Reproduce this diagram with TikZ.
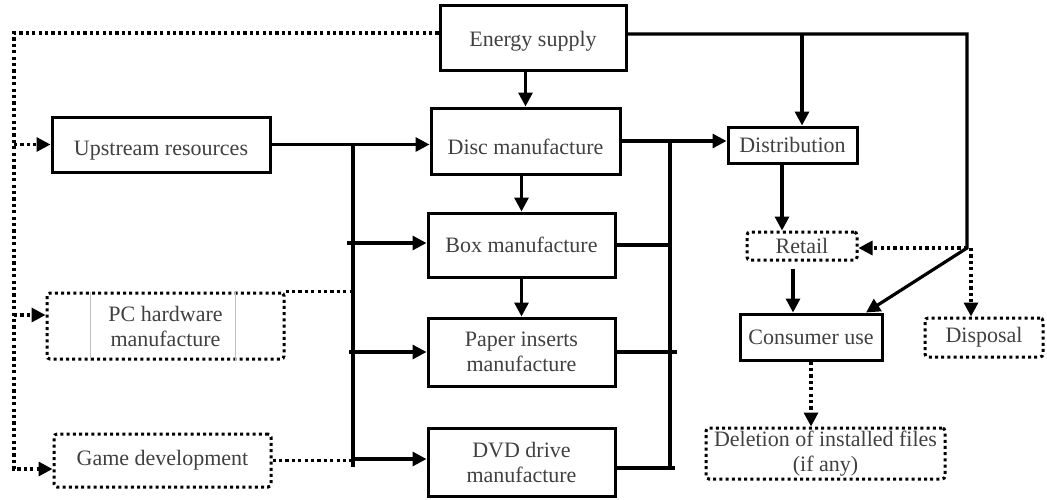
\documentclass[tikz,border=0pt]{standalone}
\usepackage{fontspec}
\setmainfont{Liberation Serif}
\usetikzlibrary{arrows.meta,positioning}

\begin{document}
\begin{tikzpicture}[x=0.5pt,y=-0.5pt,font=\fontsize{11}{12.5}\selectfont,
    blk/.style={draw, line width=1.5pt, inner sep=0pt, align=center, text=black!75},
    dotblk/.style={blk, dash pattern=on 1.5pt off 1.6pt, rounded corners=1.5pt},
    line/.style={line width=1.6pt},
    dotline/.style={line width=1.6pt, dash pattern=on 1.6pt off 1.6pt},
    >={Triangle[length=7pt,width=7pt]}]
    \useasboundingbox (0,0) rectangle (1047,499);
    % boxes
    \node[blk, minimum width=93pt, minimum height=32.5pt, text height=10.5pt, text depth=1.3pt] (energy) at (533,37.5) {Energy supply};
    \node[blk, minimum width=109pt, minimum height=27.5pt, text height=12pt, text depth=1.3pt] (upstream) at (161,144.5) {Upstream resources};
    \node[dotblk, minimum width=118.5pt, minimum height=33pt] (pc) at (165.5,326) {PC hardware\\manufacture};
    \node[dotblk, minimum width=108.5pt, minimum height=26.5pt] (game) at (162.5,460.5) {Game development};
    \node[blk, minimum width=94.5pt, minimum height=33pt, text height=14pt, text depth=0.8pt] (disc) at (525.5,141) {Disc manufacture};
    \node[blk, minimum width=93.5pt, minimum height=32pt] (box) at (521.5,245) {Box manufacture};
    \node[blk, minimum width=93.5pt, minimum height=34pt] (paper) at (521.5,352) {Paper inserts\\manufacture};
    \node[blk, minimum width=93.5pt, minimum height=34pt] (dvd) at (521.5,462) {DVD drive\\manufacture};
    \node[blk, minimum width=64.5pt, minimum height=18pt] (distribution) at (792.5,145) {Distribution};
    \node[dotblk, minimum width=55pt, minimum height=14pt] (retail) at (802,246) {Retail};
    \node[blk, minimum width=71pt, minimum height=23pt] (consumer) at (811,337) {Consumer use};
    \node[dotblk, minimum width=59pt, minimum height=19.5pt] (disposal) at (984,337.5) {Disposal};
    \node[dotblk, minimum width=119.5pt, minimum height=25.5pt] (deletion) at (825.5,453.5) {Deletion of installed files\\(if any)};
    \draw[black!25, line width=0.4pt] ([xshift=22.5pt]pc.north west) -- ([xshift=22.5pt]pc.south west);
    \draw[black!25, line width=0.4pt] ([xshift=95pt]pc.north west) -- ([xshift=95pt]pc.south west);
    % dotted feed on the left
    \coordinate (lt) at (14,33);
    \coordinate (lb) at (14,469);
    \coordinate (pcin) at (14,315);
    \draw[dotline,->] (energy.west |- lt) -- (lt) -- (lb) -- (lb -| game.west);
    \draw[dotline,->] (lt |- upstream.west) -- (upstream.west);
    \draw[dotline,->] (pcin) -- (pcin -| pc.west);
    % left bus
    \coordinate (lbb) at (353,467);
    \coordinate (boxin) at (347,243);
    \coordinate (paperin) at (349,352);
    \coordinate (dvdin) at (353,459);
    \draw[line,->] (upstream.east) -- (upstream.east -| disc.west);
    \draw[line] (upstream.east -| lbb) -- (lbb);
    \draw[line,->] (boxin) -- (boxin -| box.west);
    \draw[line,->] (paperin) -- (paperin -| paper.west);
    \draw[line,->] (dvdin) -- (dvdin -| dvd.west);
    \draw[dotline] (pc.north east) -- (pc.north east -| lbb);
    \draw[dotline] (game.east) -- (game.east -| lbb);
    % chain of manufacture
    \draw[line,->] (energy.south -| disc.north) -- (disc.north);
    \draw[line,->] (disc.south -| box.north) -- (box.north);
    \draw[line,->] (box.south) -- (paper.north);
    % right bus
    \coordinate (rbb) at (670,468);
    \coordinate (paperout) at (677,352);
    \coordinate (dvdout) at (675,468);
    \draw[line,->] (disc.east) -- (disc.east -| distribution.west);
    \draw[line] (disc.east -| rbb) -- (rbb);
    \draw[line] (box.east) -- (box.east -| rbb);
    \draw[line] (paper.east) -- (paperout);
    \draw[line] (dvdout -| dvd.east) -- (dvdout);
    % energy to the right
    \coordinate (et) at (967,34);
    \coordinate (ej) at (967,248);
    \coordinate (eb) at (802,34);
    \draw[line,->] (energy.east |- et) -- (et) -- (ej) -- (consumer.24);
    \draw[line,->] (eb) -- (eb |- distribution.north);
    \draw[dotline,->] (ej) -- (ej -| retail.east);
    \draw[dotline,->] ([xshift=2pt]ej) -- ([xshift=2pt]ej |- disposal.north);
    % downstream
    \draw[line,->] ([xshift=-5.25pt]distribution.south) -- ([xshift=-5.25pt]distribution.south |- retail.north);
    \draw[line,->] ([xshift=-4.5pt,yshift=-3.5pt]retail.south) -- ([xshift=-4.5pt]retail.south |- consumer.north);
    \draw[dotline,->] (consumer.south) -- (consumer.south |- deletion.north);
\end{tikzpicture}
\end{document}
